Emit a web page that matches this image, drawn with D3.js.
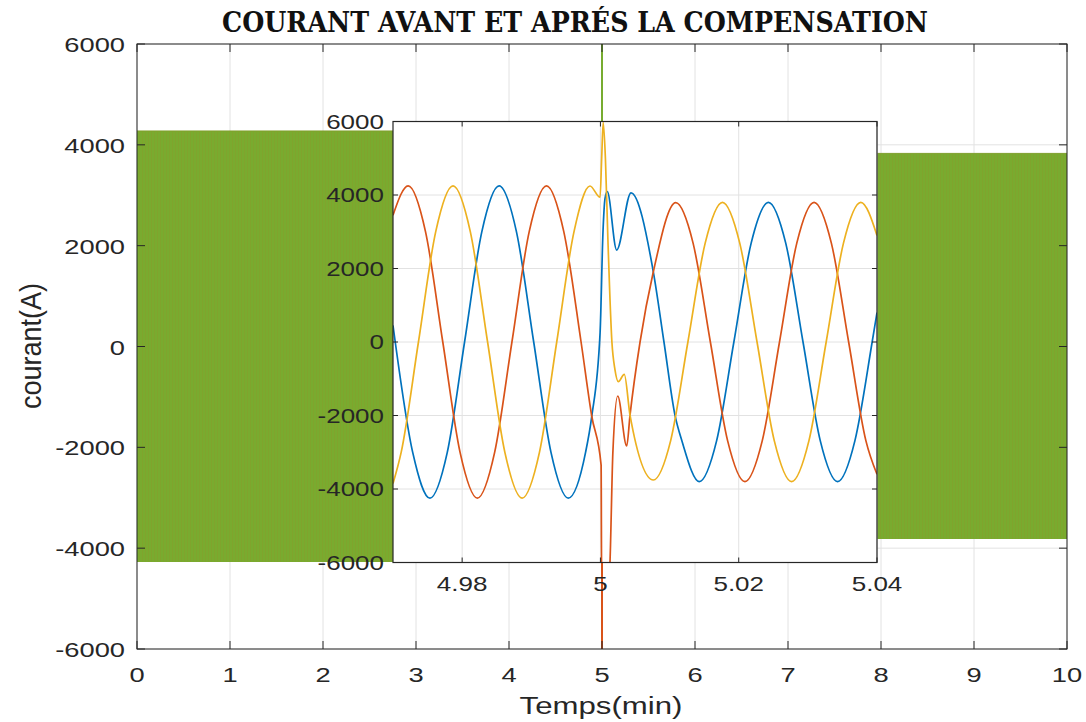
<!DOCTYPE html>
<html>
<head>
<meta charset="utf-8">
<script src="https://cdn.jsdelivr.net/npm/d3@7"></script>
<style>
  html, body { margin: 0; padding: 0; background: #ffffff; }
  svg { display: block; }
</style>
</head>
<body>
<svg id="chart" width="1086" height="722"></svg>
<script>
// ---- main axes ticks ----
const mainXTicks = [0, 1, 2, 3, 4, 5, 6, 7, 8, 9, 10];
const mainYTicks = [-6000, -4000, -2000, 0, 2000, 4000, 6000];

// ---- envelope of the three-phase current over the whole run ----
const envTime = [0, 5, 5, 10];
const envHigh = [4275, 4275, 3830, 3830];
const envLow  = [-4275, -4275, -3820, -3820];

// ---- switching transient seen on the full time scale ----
const spikeTime = 5;
const spikeHigh = 6000;   // green trace
const spikeLow  = -6000;  // orange trace

// ---- zoomed window ----
const insetXTicks = [4.98, 5, 5.02, 5.04];
const insetXLabels = ["4.98", "5", "5.02", "5.04"];
const insetYTicks = [-6000, -4000, -2000, 0, 2000, 4000, 6000];

// phase currents [time, A]
const phaseBlue = [
  [4.9700, 450], [4.97285, -3005], [4.97535, -4250], [4.97785, -3005], [4.98035, 0],
  [4.98285, 3005], [4.98535, 4250], [4.98785, 3005], [4.99035, 0], [4.99285, -3005],
  [4.99535, -4250], [4.99785, -3005], [4.99874, -2030], [4.99995, 250], [5.00037, 3000],
  [5.00066, 3900], [5.00099, 4090], [5.00235, 2500], [5.00442, 4060], [5.00765, 1910],
  [5.00919, 0], [5.01078, -1990], [5.0118, -2700], [5.0143, -3800], [5.0168, -2690],
  [5.0193, 0], [5.0218, 2690], [5.0243, 3800], [5.0268, 2690], [5.0293, 0],
  [5.0318, -2690], [5.0343, -3800], [5.0368, -2690], [5.0393, 0], [5.0400, 800]
];
const phaseRed = [
  [4.9700, 3450], [4.9722, 4250], [4.9747, 3005], [4.9772, 0], [4.9797, -3005],
  [4.9822, -4250], [4.9847, -3005], [4.9872, 0], [4.9897, 3005], [4.9922, 4250],
  [4.9947, 3005], [4.9972, 0], [4.99874, -2014], [5.0001, -3350], [5.00018, -6600],
  [5.00125, -6600], [5.00140, -5900], [5.00180, -3000], [5.00250, -1470], [5.00380, -2830],
  [5.00428, -1990], [5.00573, 0], [5.00765, 1910], [5.01089, 3790], [5.0134, 2690],
  [5.0159, 0], [5.0184, -2690], [5.0209, -3800], [5.0234, -2690], [5.0259, 0],
  [5.0284, 2690], [5.0309, 3800], [5.0334, 2690], [5.0359, 0], [5.0384, -2690],
  [5.0400, -3600]
];
const phaseYellow = [
  [4.9700, -3850], [4.97118, -3005], [4.97368, 0], [4.97618, 3005], [4.97868, 4250],
  [4.98118, 3005], [4.98368, 0], [4.98618, -3005], [4.98868, -4250], [4.99118, -3005],
  [4.99368, 0], [4.99618, 3005], [4.99849, 4245], [4.99995, 3940], [5.00018, 5000],
  [5.00040, 5980], [5.00072, 5000], [5.00108, 2800], [5.00166, 0], [5.00210, -750],
  [5.00259, -1080], [5.00345, -880], [5.00428, -1990], [5.00765, -3755], [5.01015, -2690],
  [5.01265, 0], [5.01515, 2690], [5.01765, 3800], [5.02015, 2690], [5.02265, 0],
  [5.02515, -2690], [5.02765, -3800], [5.03015, -2690], [5.03265, 0], [5.03515, 2690],
  [5.03765, 3800], [5.0400, 2900]
];

const titleText = "COURANT AVANT ET APRÉS LA COMPENSATION";
const xTitle = "Temps(min)";
const yTitle = "courant(A)";

// ---- styling ----
const AXIS = "#262626";
const GRID = "#e2e2e2";
const BLUE = "#0072BD", RED = "#D95319", YELLOW = "#EDB120", GREEN = "#77AC30";
const FONT = "'Liberation Sans', Arial, Helvetica, sans-serif";
const SX = 1.3; // horizontal text stretch

const svg = d3.select("#chart");

// scales
const x = d3.scaleLinear().domain([0, 10]).range([137, 1067]);
const y = d3.scaleLinear().domain([-6000, 6000]).range([649, 44]);
const xi = d3.scaleLinear().domain([4.97, 5.04]).range([393, 877]);
const yi = d3.scaleLinear().domain([-6000, 6000]).range([562.5, 121.5]);

function stretchedText(parent, px, py, txt, size, anchor, opts = {}) {
  const g = parent.append("g")
    .attr("transform", `translate(${px},${py}) ${opts.rotate ? "scale(" + SX + ",1) rotate(-90)" : "scale(" + SX + ",1)"}`);
  const t = g.append("text")
    .attr("x", 0).attr("y", 0)
    .attr("text-anchor", anchor)
    .attr("font-family", FONT)
    .attr("font-size", size)
    .attr("fill", opts.fill || AXIS)
    .text(txt);
  if (opts.length) t.attr("textLength", opts.length).attr("lengthAdjust", "spacingAndGlyphs");
  return t;
}

const defs = svg.append("defs");
defs.append("clipPath").attr("id", "mainClip")
  .append("rect").attr("x", 137).attr("y", 44).attr("width", 930).attr("height", 605);
defs.append("clipPath").attr("id", "insetClip")
  .append("rect").attr("x", 393).attr("y", 121.5).attr("width", 484).attr("height", 441);

// densely packed waveform texture
const pat = defs.append("pattern").attr("id", "wave")
  .attr("patternUnits", "userSpaceOnUse").attr("width", 3).attr("height", 12);
pat.append("rect").attr("width", 3).attr("height", 12).attr("fill", "#79ab2f");
pat.append("rect").attr("x", 1).attr("width", 1).attr("height", 12).attr("fill", "rgba(160,125,40,0.16)");

// ---- main axes ----
const main = svg.append("g");

// grid
main.append("g").selectAll("line.vg").data(mainXTicks).join("line")
  .attr("x1", d => x(d)).attr("x2", d => x(d)).attr("y1", y(6000)).attr("y2", y(-6000))
  .attr("stroke", GRID).attr("stroke-width", 1);
main.append("g").selectAll("line.hg").data(mainYTicks).join("line")
  .attr("x1", x(0)).attr("x2", x(10)).attr("y1", d => y(d)).attr("y2", d => y(d))
  .attr("stroke", GRID).attr("stroke-width", 1);

// envelope band
const envData = envTime.map((t, i) => ({ t, hi: envHigh[i], lo: envLow[i] }));
main.append("path")
  .datum(envData)
  .attr("clip-path", "url(#mainClip)")
  .attr("d", d3.area().x(d => x(d.t)).y0(d => y(d.lo)).y1(d => y(d.hi)))
  .attr("fill", "url(#wave)");
main.append("path")
  .datum(envData)
  .attr("d", d3.line().x(d => x(d.t)).y(d => y(d.hi)))
  .attr("fill", "none").attr("stroke", "#7f9f2c").attr("stroke-width", 1);

// spikes at the switching instant
main.append("line")
  .attr("clip-path", "url(#mainClip)")
  .attr("x1", x(spikeTime)).attr("x2", x(spikeTime))
  .attr("y1", y(0)).attr("y2", y(spikeHigh))
  .attr("stroke", GREEN).attr("stroke-width", 2);
main.append("line")
  .attr("clip-path", "url(#mainClip)")
  .attr("x1", x(spikeTime)).attr("x2", x(spikeTime))
  .attr("y1", y(0)).attr("y2", y(spikeLow))
  .attr("stroke", RED).attr("stroke-width", 2);

// box
main.append("rect")
  .attr("x", x(0)).attr("y", y(6000)).attr("width", x(10) - x(0)).attr("height", y(-6000) - y(6000))
  .attr("fill", "none").attr("stroke", AXIS).attr("stroke-width", 1);

// inward ticks
const TL = 8;
main.append("g").selectAll("line").data(mainXTicks).join("line")
  .attr("x1", d => x(d)).attr("x2", d => x(d)).attr("y1", y(-6000)).attr("y2", y(-6000) - TL)
  .attr("stroke", AXIS);
main.append("g").selectAll("line").data(mainXTicks).join("line")
  .attr("x1", d => x(d)).attr("x2", d => x(d)).attr("y1", y(6000)).attr("y2", y(6000) + TL)
  .attr("stroke", AXIS);
main.append("g").selectAll("line").data(mainYTicks).join("line")
  .attr("x1", x(0)).attr("x2", x(0) + TL).attr("y1", d => y(d)).attr("y2", d => y(d))
  .attr("stroke", AXIS);
main.append("g").selectAll("line").data(mainYTicks).join("line")
  .attr("x1", x(10)).attr("x2", x(10) - TL).attr("y1", d => y(d)).attr("y2", d => y(d))
  .attr("stroke", AXIS);

// tick labels
mainXTicks.forEach(d => stretchedText(main, x(d), 682, String(d), 21, "middle"));
mainYTicks.forEach(d => stretchedText(main, 125, y(d) + 8, String(d), 21, "end"));

// axis titles
stretchedText(main, 601, 714, xTitle, 24, "middle");
stretchedText(main, 41, 346, yTitle, 22, "middle", { rotate: true, length: 126 });

// chart title
svg.append("text")
  .attr("x", 575).attr("y", 32)
  .attr("text-anchor", "middle")
  .attr("font-family", "'DejaVu Serif', 'Liberation Serif', serif")
  .attr("font-weight", "bold")
  .attr("font-size", 28)
  .attr("fill", "#111")
  .attr("textLength", 706).attr("lengthAdjust", "spacingAndGlyphs")
  .text(titleText);

// ---- inset ----
const ins = svg.append("g");
ins.append("rect")
  .attr("x", xi(4.97)).attr("y", yi(6000)).attr("width", xi(5.04) - xi(4.97)).attr("height", yi(-6000) - yi(6000))
  .attr("fill", "#ffffff");

ins.append("g").selectAll("line").data(insetXTicks).join("line")
  .attr("x1", d => xi(d)).attr("x2", d => xi(d)).attr("y1", yi(6000)).attr("y2", yi(-6000))
  .attr("stroke", GRID);
ins.append("g").selectAll("line").data(insetYTicks).join("line")
  .attr("x1", xi(4.97)).attr("x2", xi(5.04)).attr("y1", d => yi(d)).attr("y2", d => yi(d))
  .attr("stroke", GRID);

const wave = d3.line().x(d => xi(d[0])).y(d => yi(d[1])).curve(d3.curveMonotoneX);
const traces = [
  { data: phaseBlue, color: BLUE },
  { data: phaseRed, color: RED },
  { data: phaseYellow, color: YELLOW }
];
ins.append("g").attr("clip-path", "url(#insetClip)")
  .selectAll("path").data(traces).join("path")
  .attr("d", d => wave(d.data))
  .attr("fill", "none")
  .attr("stroke", d => d.color)
  .attr("stroke-width", 1.7)
  .attr("stroke-linejoin", "round");

ins.append("rect")
  .attr("x", xi(4.97)).attr("y", yi(6000)).attr("width", xi(5.04) - xi(4.97)).attr("height", yi(-6000) - yi(6000))
  .attr("fill", "none").attr("stroke", AXIS).attr("stroke-width", 1.2);

const TI = 5;
ins.append("g").selectAll("line").data(insetXTicks).join("line")
  .attr("x1", d => xi(d)).attr("x2", d => xi(d)).attr("y1", yi(-6000)).attr("y2", yi(-6000) - TI)
  .attr("stroke", AXIS);
ins.append("g").selectAll("line").data(insetXTicks).join("line")
  .attr("x1", d => xi(d)).attr("x2", d => xi(d)).attr("y1", yi(6000)).attr("y2", yi(6000) + TI)
  .attr("stroke", AXIS);
ins.append("g").selectAll("line").data(insetYTicks).join("line")
  .attr("x1", xi(4.97)).attr("x2", xi(4.97) + TI).attr("y1", d => yi(d)).attr("y2", d => yi(d))
  .attr("stroke", AXIS);
ins.append("g").selectAll("line").data(insetYTicks).join("line")
  .attr("x1", xi(5.04)).attr("x2", xi(5.04) - TI).attr("y1", d => yi(d)).attr("y2", d => yi(d))
  .attr("stroke", AXIS);

insetXTicks.forEach((d, i) => stretchedText(ins, xi(d), 591, insetXLabels[i], 20, "middle"));
insetYTicks.forEach(d => stretchedText(ins, 384, yi(d) + 7, String(d), 20, "end"));
</script>
</body>
</html>
